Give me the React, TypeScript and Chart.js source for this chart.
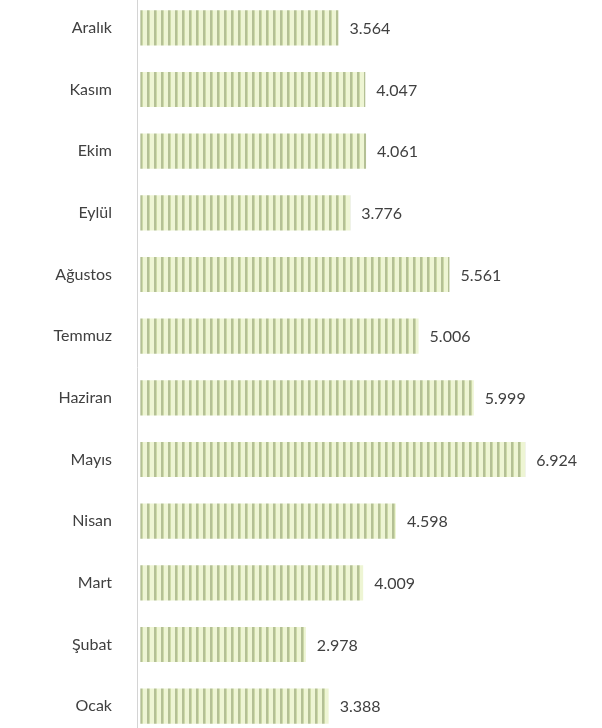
import React, { useEffect, useRef } from "react";
import { Chart, registerables } from "chart.js";

Chart.register(...registerables);

const months: string[] = [
  "Aralık", "Kasım", "Ekim", "Eylül", "Ağustos", "Temmuz",
  "Haziran", "Mayıs", "Nisan", "Mart", "Şubat", "Ocak",
];
const values: number[] = [3564, 4047, 4061, 3776, 5561, 5006, 5999, 6924, 4598, 4009, 2978, 3388];

const FONT = "Lato, 'Open Sans', sans-serif";

function fmt(n: number): string {
  const th = Math.floor(n / 1000);
  const rest = String(n % 1000).padStart(3, "0");
  return th > 0 ? `${th}.${rest}` : String(n);
}

function makePattern(ctx: CanvasRenderingContext2D): CanvasPattern | string {
  const c = document.createElement("canvas");
  c.width = 7;
  c.height = 4;
  const p = c.getContext("2d");
  if (!p) return "#d6e2b0";
  p.fillStyle = "#eef5d4";
  p.fillRect(0, 0, 7, 4);
  p.fillStyle = "#b4c095";
  p.fillRect(0, 0, 2, 4);
  p.fillStyle = "#cddaa8";
  p.fillRect(2, 0, 1, 4);
  return ctx.createPattern(c, "repeat") || "#d6e2b0";
}

const valueLabels = {
  id: "valueLabels",
  afterDatasetsDraw(chart: any) {
    const ctx = chart.ctx;
    const meta = chart.getDatasetMeta(0);
    ctx.save();
    ctx.font = `16px ${FONT}`;
    ctx.fillStyle = "#404040";
    ctx.textAlign = "left";
    ctx.textBaseline = "middle";
    meta.data.forEach((bar: any, i: number) => {
      ctx.fillText(fmt(values[i]), bar.x + 11, bar.y + 1);
    });
    ctx.restore();
  },
};

export default function App() {
  const ref = useRef<HTMLCanvasElement | null>(null);

  useEffect(() => {
    const canvas = ref.current;
    if (!canvas) return;
    const ctx = canvas.getContext("2d");
    if (!ctx) return;
    const pattern = makePattern(ctx);
    const chart = new Chart(canvas, {
      type: "bar",
      data: {
        labels: months,
        datasets: [
          {
            data: values,
            backgroundColor: pattern as any,
            borderWidth: 0,
            categoryPercentage: 1,
            barPercentage: 0.57,
          },
        ],
      },
      options: {
        indexAxis: "y",
        animation: false,
        responsive: false,
        maintainAspectRatio: false,
        layout: { autoPadding: false, padding: { top: 0, bottom: 0, left: 0, right: 17 } },
        plugins: {
          legend: { display: false },
          tooltip: { enabled: false },
          title: { display: false },
        },
        scales: {
          x: {
            display: false,
            min: -60,
            max: 8000,
          },
          y: {
            grid: { display: false, drawTicks: false },
            border: { display: true, color: "#d4d4d4", width: 1 },
            ticks: {
              color: "#404040",
              font: { family: FONT, size: 16 },
              padding: 25,
            },
            afterFit: (axis: any) => {
              axis.width = 137;
              axis.paddingTop = 0;
              axis.paddingBottom = 0;
            },
          },
        },
      },
      plugins: [valueLabels],
    });
    return () => chart.destroy();
  }, []);

  return (
    <div style={{ position: "fixed", left: 0, top: -3, width: 602, height: 740, background: "#ffffff" }}>
      <canvas ref={ref} width={602} height={740} style={{ display: "block", width: 602, height: 740 }} />
    </div>
  );
}
